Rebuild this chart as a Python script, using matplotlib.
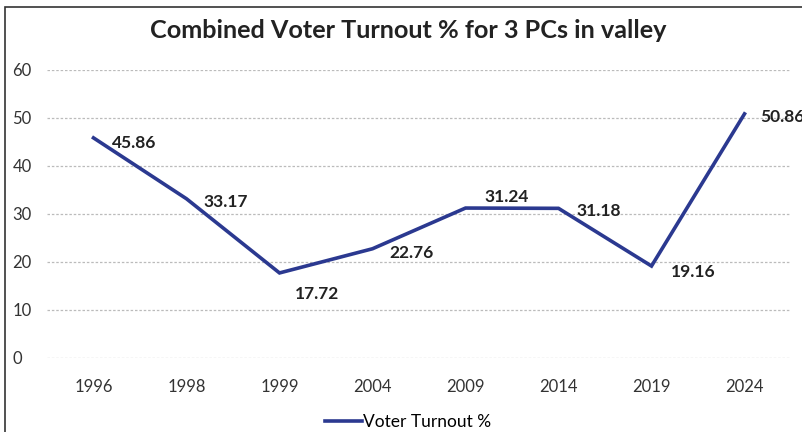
import matplotlib
matplotlib.use('Agg')
import matplotlib.pyplot as plt
from matplotlib.patches import Rectangle

years = ['1996', '1998', '1999', '2004', '2009', '2014', '2019', '2024']
turnout = [45.86, 33.17, 17.72, 22.76, 31.24, 31.18, 19.16, 50.86]
# label offsets (points) to mimic the placement in the original
offsets = [(13, -4), (12, -2), (11, -15), (12, -3), (14, 8), (13, -2), (14, -4), (11, -2)]

line_color = '#2B3990'
plt.rcParams['font.family'] = ['Lato', 'DejaVu Sans']

fig = plt.figure(figsize=(8.02, 4.32), dpi=100)
fig.patches.append(Rectangle((5 / 802, -0.1), 1.2, 1 - 7 / 432 + 0.1,
                             transform=fig.transFigure, fill=False,
                             edgecolor='#333333', linewidth=1.2))
ax = fig.add_axes([47 / 802, 1 - 358 / 432, 744 / 802, 288 / 432])

x = range(len(years))
ax.plot(x, turnout, color=line_color, linewidth=2.6, label='Voter Turnout %',
        solid_joinstyle='miter')

for i, v in enumerate(turnout):
    dx, dy = offsets[i]
    ax.annotate(f'{v:.2f}', (i, v), xytext=(dx, dy), textcoords='offset points',
                ha='left', va='center', fontsize=12.5, fontweight='bold',
                color='#222222', clip_on=False)

ax.set_xlim(-0.5, len(years) - 0.5)
ax.set_ylim(0, 60)
ax.set_yticks(range(0, 61, 10))
ax.set_xticks(list(x))
ax.set_xticklabels(years)
ax.tick_params(length=0, labelsize=12, colors='#333333')
ax.tick_params(axis='x', pad=15)
for lbl in ax.get_yticklabels():
    lbl.set_horizontalalignment('left')
ax.yaxis.set_tick_params(pad=25)
ax.grid(axis='y', color='#BBBBBB', linestyle=(0, (2, 1.5)), linewidth=0.9)
ax.set_axisbelow(True)
for s in ax.spines.values():
    s.set_visible(False)

fig.text(0.509, 1 - 30 / 432, 'Combined Voter Turnout % for 3 PCs in valley',
         ha='center', va='center', fontsize=18.2, fontweight='bold',
         color='#222222')

fig.legend(loc='center', bbox_to_anchor=(0.509, 1 - 422 / 432), frameon=False,
           fontsize=12.5, handlelength=2.1, handletextpad=0.1)

fig.savefig('out.png', dpi=100)
